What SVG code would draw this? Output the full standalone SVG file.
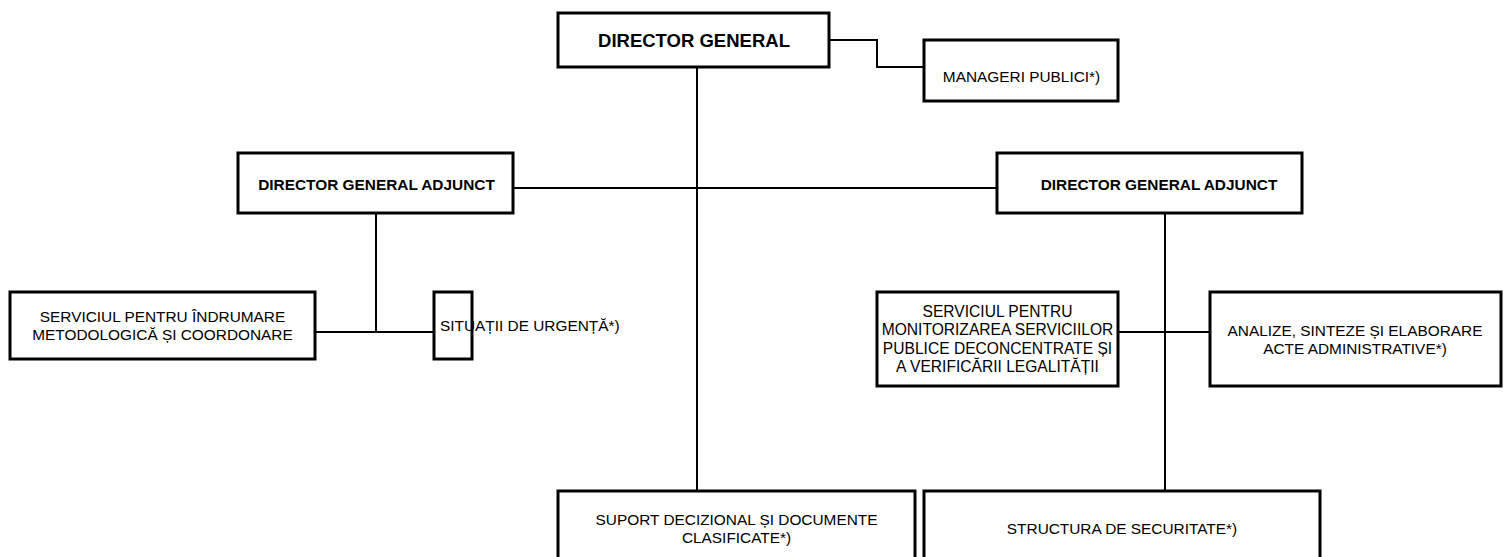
<svg xmlns="http://www.w3.org/2000/svg" width="1504" height="557" viewBox="0 0 1504 557">
<style>
.box{fill:#fff;stroke:#000;stroke-width:3}
.ln{fill:none;stroke:#000;stroke-width:2}
text{font-family:"Liberation Sans",Arial,sans-serif;fill:#000;text-anchor:middle}
.t{font-size:15.4px}
.m{font-size:15.6px}
.b1{font-weight:bold;font-size:18.5px}
.b2{font-weight:bold;font-size:15.4px}
.l{text-anchor:start}
</style>
<rect width="1504" height="557" fill="#fff"/>
<g id="connectors">
<polyline class="ln" points="829,40 877,40 877,67 924,67"/>
<line class="ln" x1="697" y1="67" x2="697" y2="491"/>
<line class="ln" x1="513" y1="188" x2="997" y2="188"/>
<line class="ln" x1="376" y1="213" x2="376" y2="332"/>
<line class="ln" x1="315" y1="332" x2="434" y2="332"/>
<line class="ln" x1="1165" y1="213" x2="1165" y2="491"/>
<line class="ln" x1="1118" y1="332" x2="1210" y2="332"/>
</g>
<g id="dg">
<rect class="box" x="558" y="13" width="271" height="54"/>
<text class="b1" x="694" y="46.5">DIRECTOR GENERAL</text>
</g>
<g id="manageri">
<rect class="box" x="924" y="40" width="194" height="61"/>
<text class="t" x="1021.5" y="81.5">MANAGERI PUBLICI*)</text>
</g>
<g id="dga-left">
<rect class="box" x="238" y="153" width="275" height="60"/>
<text class="b2" x="376.5" y="189.5">DIRECTOR GENERAL ADJUNCT</text>
</g>
<g id="dga-right">
<rect class="box" x="997" y="153" width="305" height="60"/>
<text class="b2" x="1159" y="189.5">DIRECTOR GENERAL ADJUNCT</text>
</g>
<g id="serviciul-indrumare">
<rect class="box" x="10" y="292" width="305" height="67"/>
<text class="t" x="162.5" y="322">SERVICIUL PENTRU ÎNDRUMARE</text>
<text class="t" x="162.5" y="340">METODOLOGICĂ ȘI COORDONARE</text>
</g>
<g id="situatii">
<rect class="box" x="434" y="292" width="38" height="67"/>
<text class="t l" x="440" y="330.5">SITUAȚII DE URGENȚĂ*)</text>
</g>
<g id="serviciul-monitorizare">
<rect class="box" x="877" y="292" width="241" height="94"/>
<text class="m" x="997.5" y="316.5">SERVICIUL PENTRU</text>
<text class="m" x="997.5" y="335">MONITORIZAREA SERVICIILOR</text>
<text class="m" x="997.5" y="353.5">PUBLICE DECONCENTRATE ȘI</text>
<text class="m" x="997.5" y="372">A VERIFICĂRII LEGALITĂȚII</text>
</g>
<g id="analize">
<rect class="box" x="1210" y="292" width="291" height="94"/>
<text class="t" x="1355" y="335.5">ANALIZE, SINTEZE ȘI ELABORARE</text>
<text class="t" x="1355" y="353.5">ACTE ADMINISTRATIVE*)</text>
</g>
<g id="suport">
<rect class="box" x="558" y="491" width="357" height="80"/>
<text class="t" x="736.5" y="524.5">SUPORT DECIZIONAL ȘI DOCUMENTE</text>
<text class="t" x="736.5" y="542.5">CLASIFICATE*)</text>
</g>
<g id="structura">
<rect class="box" x="924" y="491" width="396" height="80"/>
<text class="t" x="1122" y="534">STRUCTURA DE SECURITATE*)</text>
</g>
</svg>
